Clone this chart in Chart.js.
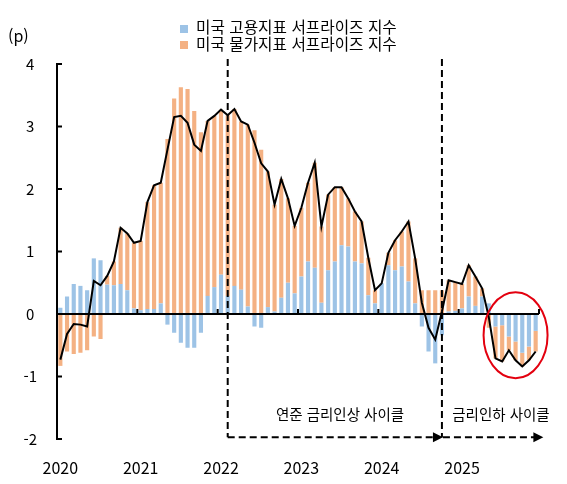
<!DOCTYPE html>
<html lang="ko">
<head>
<meta charset="utf-8">
<script src="https://cdn.jsdelivr.net/npm/chart.js@4.4.1/dist/chart.umd.min.js"></script>
<style>
  html, body { margin: 0; padding: 0; background: #fff; }
  #wrap { position: relative; width: 567px; height: 484px; font-family: 'Noto Sans CJK KR', sans-serif; color: #000; }
  #wrap canvas { position: absolute; left: 0; top: 0; }
  .txt { position: absolute; white-space: nowrap; line-height: 1; }
  .mid { transform: translate(-50%, -50%); }
  #legend { position: absolute; left: 180px; top: 19px; font-size: 15.7px; line-height: 16px; }
  #legend .item { display: flex; align-items: center; height: 16px; margin-bottom: 0.5px; white-space: nowrap; }
  #legend .box { width: 8px; height: 8px; margin-right: 8px; margin-top: 3px; }
</style>
</head>
<body>
<div id="wrap">
  <canvas id="chart" width="567" height="484"></canvas>
  <div class="txt" style="left:8px; top:27px; font-size:16px;">(p)</div>
  <div id="legend"></div>
  <div class="txt mid" style="left:340px; top:414px; font-size:14.5px;">연준 금리인상 사이클</div>
  <div class="txt mid" style="left:501px; top:414px; font-size:14.5px;">금리인하 사이클</div>
</div>
<script>
// monthly, Jan 2020 - Dec 2025
const years = ['2020', '2021', '2022', '2023', '2024', '2025'];

// 미국 고용지표 서프라이즈 지수 (blue)
const employ = [
  0.10, 0.28, 0.48, 0.45, 0.38, 0.89, 0.86, 0.47, 0.46, 0.48, 0.38, 0.09,
  0.06, 0.08, 0.08, 0.17, -0.17, -0.30, -0.46, -0.54, -0.54, -0.30, 0.29, 0.43,
  0.63, 0.29, 0.45, 0.39, 0.12, -0.20, -0.22, 0.11, 0.04, 0.26, 0.50, 0.33,
  0.60, 0.84, 0.74, 0.18, 0.70, 0.84, 1.10, 1.08, 0.84, 0.81, 0.30, 0.17,
  0.49, 0.78, 0.70, 0.76, 0.52, 0.17, -0.20, -0.60, -0.79, -0.34, 0.04, 0.05,
  0.09, 0.28, 0.13, 0.28, 0.17, -0.20, -0.18, -0.36, -0.44, -0.62, -0.52, -0.27
];

// 미국 물가지표 서프라이즈 지수 (orange)
const price = [
  -0.83, -0.60, -0.64, -0.62, -0.58, -0.36, -0.40, 0.14, 0.38, 0.90, 0.91, 1.05,
  1.11, 1.71, 1.98, 1.93, 2.80, 3.45, 3.63, 3.60, 3.25, 2.91, 2.80, 2.74,
  2.64, 2.89, 2.83, 2.69, 2.91, 2.94, 2.63, 2.17, 1.71, 1.90, 1.35, 1.08,
  1.10, 1.26, 1.68, 1.22, 1.21, 1.19, 0.93, 0.77, 0.80, 0.67, 0.60, 0.21,
  0.00, 0.20, 0.48, 0.56, 0.96, 0.72, 0.38, 0.38, 0.38, 0.38, 0.50, 0.46,
  0.39, 0.50, 0.47, 0.13, -0.22, -0.51, -0.58, -0.22, -0.30, -0.22, -0.22, -0.33
];

// 합계 (black line)
const total = [
  -0.73, -0.32, -0.16, -0.17, -0.20, 0.53, 0.46, 0.61, 0.84, 1.38, 1.29, 1.14,
  1.17, 1.79, 2.06, 2.10, 2.63, 3.15, 3.17, 3.06, 2.71, 2.61, 3.09, 3.17,
  3.27, 3.18, 3.28, 3.08, 3.03, 2.74, 2.41, 2.28, 1.75, 2.16, 1.85, 1.41,
  1.70, 2.10, 2.42, 1.40, 1.91, 2.03, 2.03, 1.85, 1.64, 1.48, 0.90, 0.38,
  0.49, 0.98, 1.18, 1.32, 1.48, 0.89, 0.18, -0.22, -0.41, 0.04, 0.54, 0.51,
  0.48, 0.78, 0.60, 0.41, -0.05, -0.71, -0.76, -0.58, -0.74, -0.84, -0.74, -0.60
];

const hikeStart = 25;  // 2022-02
const cutStart = 57;   // 2024-10

const months = [];
years.forEach(yr => {
  for (let m = 1; m <= 12; m++) months.push(yr + '-' + String(m).padStart(2, '0'));
});

Chart.defaults.font.family = "'Noto Sans CJK KR', sans-serif";
Chart.defaults.font.size = 15;
Chart.defaults.color = '#000';

const decor = {
  id: 'decor',
  afterDatasetsDraw(chart) {
    const { ctx, chartArea: a, scales: { x, y } } = chart;
    ctx.save();
    ctx.strokeStyle = '#000';
    ctx.fillStyle = '#000';
    ctx.lineWidth = 2;

    // zero line + year ticks
    const y0 = y.getPixelForValue(0);
    ctx.beginPath();
    ctx.moveTo(a.left, y0);
    ctx.lineTo(a.right, y0);
    ctx.stroke();
    for (let k = 1; k <= years.length; k++) {
      const px = x.getPixelForValue(k * 12 - 0.5);
      ctx.beginPath();
      ctx.moveTo(px, y0);
      ctx.lineTo(px, y0 - 5);
      ctx.stroke();
    }
    // y ticks, pointing inside
    for (let v = y.min; v <= y.max; v++) {
      const py = y.getPixelForValue(v);
      ctx.beginPath();
      ctx.moveTo(a.left, py);
      ctx.lineTo(a.left + 5, py);
      ctx.stroke();
    }

    // cycle markers
    const yTop = y.getPixelForValue(4.08);
    const yArr = y.getPixelForValue(-1.97);
    const xa = x.getPixelForValue(hikeStart);
    const xb = x.getPixelForValue(cutStart);
    const xc = x.getPixelForValue(months.length);
    ctx.setLineDash([7, 4]);
    [xa, xb].forEach(px => {
      ctx.beginPath();
      ctx.moveTo(px, yTop);
      ctx.lineTo(px, yArr);
      ctx.stroke();
    });
    const arrow = (x1, x2) => {
      ctx.setLineDash([7, 4]);
      ctx.beginPath();
      ctx.moveTo(x1, yArr);
      ctx.lineTo(x2 - 8, yArr);
      ctx.stroke();
      ctx.setLineDash([]);
      ctx.beginPath();
      ctx.moveTo(x2 + 1, yArr);
      ctx.lineTo(x2 - 9, yArr - 5);
      ctx.lineTo(x2 - 9, yArr + 5);
      ctx.closePath();
      ctx.fill();
    };
    arrow(xa, xb);
    arrow(xb + 1, xc);

    // red circle around late 2025
    ctx.setLineDash([]);
    ctx.strokeStyle = '#e3000f';
    ctx.lineWidth = 2;
    ctx.beginPath();
    ctx.ellipse(x.getPixelForValue(68), y.getPixelForValue(-0.34), 32, 43, 0, 0, Math.PI * 2);
    ctx.stroke();
    ctx.restore();
  }
};

const chart = new Chart(document.getElementById('chart'), {
  data: {
    labels: months,
    datasets: [
      {
        type: 'line',
        label: '합계',
        data: total,
        borderColor: '#000',
        borderWidth: 2,
        pointRadius: 0,
        tension: 0,
        stack: 'line',
        order: 0
      },
      {
        type: 'bar',
        label: '미국 고용지표 서프라이즈 지수',
        data: employ,
        backgroundColor: '#9dc3e6',
        stack: 'bars',
        barPercentage: 0.62,
        categoryPercentage: 1,
        order: 1
      },
      {
        type: 'bar',
        label: '미국 물가지표 서프라이즈 지수',
        data: price,
        backgroundColor: '#f4b183',
        stack: 'bars',
        barPercentage: 0.62,
        categoryPercentage: 1,
        order: 1
      }
    ]
  },
  options: {
    responsive: false,
    animation: false,
    layout: { padding: { top: 64, right: 28, left: 0, bottom: 0 } },
    plugins: { legend: { display: false }, tooltip: { enabled: false } },
    scales: {
      x: {
        stacked: true,
        offset: true,
        grid: { display: false },
        border: { display: false },
        ticks: {
          autoSkip: false,
          maxRotation: 0,
          padding: 11,
          font: { size: 16 },
          callback: (v, i) => (i % 12 === 0 ? years[i / 12] : '')
        },
        afterFit: s => { s.height = 45; }
      },
      y: {
        stacked: true,
        min: -2,
        max: 4,
        grid: { display: false },
        border: { display: true, color: '#000', width: 2 },
        ticks: { stepSize: 1, padding: 12, crossAlign: 'center', font: { size: 15 } },
        afterFit: s => { s.width = 57; }
      }
    }
  },
  plugins: [decor]
});

// legend as html text, built from the bar datasets
const legend = document.getElementById('legend');
chart.data.datasets.filter(d => d.type === 'bar').forEach(d => {
  const item = document.createElement('div');
  item.className = 'item';
  const box = document.createElement('span');
  box.className = 'box';
  box.style.background = d.backgroundColor;
  const label = document.createElement('span');
  label.textContent = d.label;
  item.appendChild(box);
  item.appendChild(label);
  legend.appendChild(item);
});
</script>
</body>
</html>
